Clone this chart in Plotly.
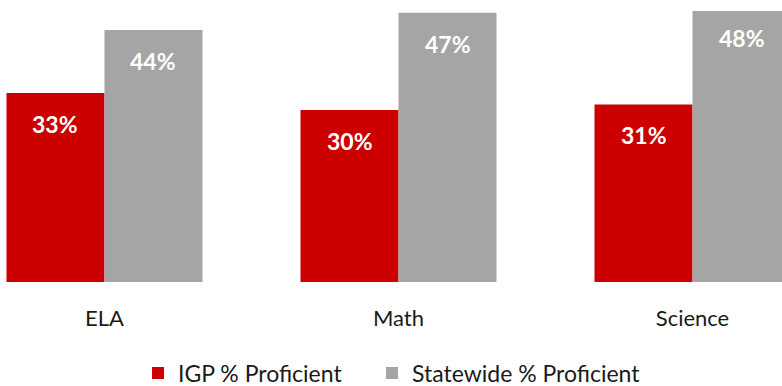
import plotly.graph_objects as go

# Proficiency rates by subject
subjects = ["ELA", "Math", "Science"]
igp_pct = [33, 30, 31]
statewide_pct = [44, 47, 48]

series_names = ["IGP % Proficient", "Statewide % Proficient"]
series_colors = ["#CC0000", "#A5A5A5"]
legend_ids = ["legend", "legend2"]
legend_x = [0.1765, 0.4757]   # left edge of each legend entry (paper fraction)

Y_MAX = 47.3          # top of the value axis; the tallest bar runs past it
LABEL_DROP = 5.4      # how far below a bar's top its value label sits (axis units)

fig = go.Figure()
for name, vals, color, lg in zip(series_names, [igp_pct, statewide_pct],
                                 series_colors, legend_ids):
    fig.add_trace(go.Bar(
        name=name,
        x=subjects,
        y=vals,
        marker=dict(color=color, line=dict(width=0)),
        hoverinfo="skip",
        legend=lg,
    ))

# Value labels placed just inside the top of each bar
bar_offsets = [-1 / 6, 1 / 6]
for off, vals in zip(bar_offsets, [igp_pct, statewide_pct]):
    for i, v in enumerate(vals):
        fig.add_annotation(
            x=i + off, y=v - LABEL_DROP, xref="x", yref="y",
            text=f"<b>{v}%</b>",
            showarrow=False,
            font=dict(family="Lato, sans-serif", size=23, color="#FFFFFF"),
        )

legend_style = dict(
    orientation="h", xanchor="left", y=-0.336, yanchor="middle",
    font=dict(family="Lato, sans-serif", size=23, color="#1a1a1a"),
    itemwidth=30, bgcolor="rgba(0,0,0,0)",
)

fig.update_layout(
    width=782, height=386,
    margin=dict(l=0, r=0, t=11, b=104, autoexpand=False),
    paper_bgcolor="white", plot_bgcolor="white",
    barmode="group", bargap=1 / 3, bargroupgap=0,
    showlegend=True,
    legend=dict(x=legend_x[0], **legend_style),
    legend2=dict(x=legend_x[1], **legend_style),
    xaxis=dict(
        range=[-0.3554, 2.3044], showgrid=False, zeroline=False, showline=False,
        ticks="", ticklabelstandoff=21, automargin=False,
        tickfont=dict(family="Lato, sans-serif", size=22, color="#1a1a1a"),
    ),
    yaxis=dict(
        range=[0, Y_MAX], visible=False, showgrid=False, zeroline=False,
        automargin=False,
    ),
)

fig.write_html("out.html")
